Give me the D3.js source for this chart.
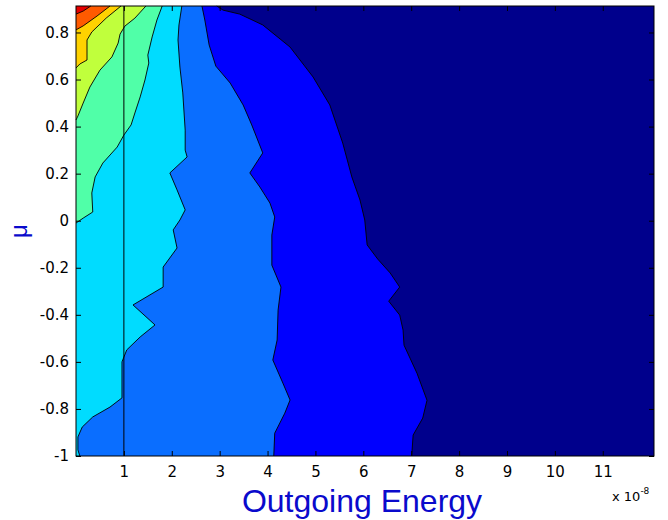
<!DOCTYPE html>
<html>
<head>
<meta charset="utf-8">
<script src="https://cdn.jsdelivr.net/npm/d3@7"></script>
<style>
body { margin: 0; background: #fff; }
</style>
</head>
<body>
<script>
// contour edges: [mu, energy (x 1e-8)] pairs, top to bottom.
// each level fills everything left of its edge.
var edgeBlue = [[0.9125,2.94],[0.895,3.07],[0.878,3.42],[0.832,3.90],[0.738,4.47],[0.611,4.95],[0.492,5.30],
    [0.330,5.57],[0.186,5.76],[0.088,5.93],[0.003,6.03],[-0.103,6.08],[-0.163,6.30],[-0.222,6.56],[-0.282,6.76],
    [-0.342,6.53],[-0.401,6.76],[-0.465,6.83],[-0.529,6.85],[-0.648,7.12],[-0.763,7.33],[-0.839,7.24],[-0.911,7.04],[-1,7.01]];
var edgeSky = [[0.9125,2.63],[0.853,2.69],[0.747,2.78],[0.657,2.92],[0.585,3.22],[0.492,3.49],[0.407,3.67],
    [0.288,3.90],[0.203,3.63],[0.143,3.84],[0.075,4.05],[0.016,4.15],[-0.061,4.09],[-0.189,4.09],[-0.282,4.28],
    [-0.380,4.22],[-0.507,4.20],[-0.592,4.11],[-0.690,4.32],[-0.762,4.47],[-0.818,4.36],[-0.903,4.15],[-1,4.13]];
var edgeCyan = [[0.9125,2.21],[0.832,2.15],[0.768,2.13],[0.653,2.17],[0.543,2.23],[0.385,2.28],[0.300,2.28],
    [0.271,2.32],[0.203,1.96],[0.131,2.11],[0.046,2.28],[0.003,2.17],[-0.039,2.03],[-0.116,2.11],[-0.197,1.82],
    [-0.282,1.82],[-0.358,1.19],[-0.443,1.65],[-0.494,1.34],[-0.549,1.06],[-0.600,0.96],[-0.753,0.96],
    [-0.792,0.71],[-0.834,0.35],[-0.877,0.13],[-0.919,0.04],[-0.974,0.04],[-1,0.08]];
var edgeAqua = [[0.9125,1.80],[0.853,1.69],[0.781,1.59],[0.704,1.50],[0.670,1.52],[0.598,1.44],[0.526,1.34],
    [0.458,1.23],[0.407,1.15],[0.364,1.00],[0.313,0.86],[0.245,0.56],[0.186,0.40],[0.118,0.33],[0.037,0.35],
    [0.011,0.15],[-0.010,0]];
var edgeLime = [[0.9125,1.46],[0.861,1.23],[0.827,1.02],[0.793,0.92],[0.755,0.88],[0.696,0.75],[0.640,0.50],
    [0.568,0.29],[0.500,0.15],[0.445,0.04],[0.428,0]];
var edgeYellow = [[0.9125,0.94],[0.861,0.63],[0.802,0.33],[0.768,0.23],[0.683,0.23],[0.666,0.08],[0.649,0]];
var edgeOrange = [[0.9125,0.71],[0.870,0.44],[0.828,0.15],[0.811,0]];
var edgeRed = [[0.9125,0.31],[0.891,0.15],[0.878,0]];

var edges = [edgeBlue, edgeSky, edgeCyan, edgeAqua, edgeLime, edgeYellow, edgeOrange, edgeRed];
var markerEnergy = 1;

var xTicks = [1, 2, 3, 4, 5, 6, 7, 8, 9, 10, 11];
var yTicks = [-1, -0.8, -0.6, -0.4, -0.2, 0, 0.2, 0.4, 0.6, 0.8];
var xDomain = [0, 12.07];
var yDomain = [-1, 0.9125];

// jet-like fill colours, lowest level first
var fills = ["#00008c", "#0000ff", "#0a6eff", "#00dcff", "#50ffa8", "#c0ff3c", "#ffd200", "#ff5a00", "#e60000"];

var w = 668, h = 520;
var svg = d3.select("body").append("svg")
    .attr("width", w)
    .attr("height", h)
    .style("background", "#fff");

var x = d3.scaleLinear().domain(xDomain).range([76, 654]);
var y = d3.scaleLinear().domain(yDomain).range([456, 6]);

// lowest level covers the whole plot
svg.append("rect")
    .attr("x", x(xDomain[0]))
    .attr("y", y(yDomain[1]))
    .attr("width", x(xDomain[1]) - x(xDomain[0]))
    .attr("height", y(yDomain[0]) - y(yDomain[1]))
    .attr("fill", fills[0]);

var area = d3.area()
    .y(function(d){ return y(d[0]); })
    .x0(x(0))
    .x1(function(d){ return x(d[1]); });

var line = d3.line()
    .x(function(d){ return x(d[1]); })
    .y(function(d){ return y(d[0]); });

edges.forEach(function(edge, i){
    svg.append("path")
        .attr("d", area(edge))
        .attr("fill", fills[i + 1]);
    svg.append("path")
        .attr("d", line(edge))
        .attr("fill", "none")
        .attr("stroke", "#000")
        .attr("stroke-width", 0.9);
});

// vertical marker line
svg.append("line")
    .attr("x1", x(markerEnergy)).attr("x2", x(markerEnergy))
    .attr("y1", y(yDomain[1])).attr("y2", y(yDomain[0]))
    .attr("stroke", "#000")
    .attr("stroke-width", 1);

// axes, ticks pointing inward
var tickFont = "'DejaVu Sans', sans-serif";

var xAxis = svg.append("g")
    .attr("transform", "translate(0," + y(yDomain[0]) + ")")
    .call(d3.axisBottom(x).tickValues(xTicks).tickSize(-5).tickSizeOuter(0).tickPadding(10)
        .tickFormat(d3.format("d")));
var yAxis = svg.append("g")
    .attr("transform", "translate(" + x(xDomain[0]) + ",0)")
    .call(d3.axisLeft(y).tickValues(yTicks).tickSize(-5).tickSizeOuter(0).tickPadding(7)
        .tickFormat(function(d){ return d3.format("")(+d.toFixed(1)); }));
svg.append("g")
    .attr("transform", "translate(0," + y(yDomain[1]) + ")")
    .call(d3.axisTop(x).tickValues(xTicks).tickSize(-5).tickSizeOuter(0).tickFormat(""));
svg.append("g")
    .attr("transform", "translate(" + x(xDomain[1]) + ",0)")
    .call(d3.axisRight(y).tickValues(yTicks).tickSize(-5).tickSizeOuter(0).tickFormat(""));

svg.selectAll(".domain").remove();
svg.selectAll(".tick line").attr("stroke", "#000");
svg.selectAll(".tick text")
    .attr("fill", "#000")
    .style("font-family", tickFont)
    .style("font-size", "15px");
yAxis.selectAll(".tick text").text(function(d){ return d3.format("")(+d.toFixed(1)).replace("\u2212", "-"); });

// box
svg.append("rect")
    .attr("x", x(xDomain[0]))
    .attr("y", y(yDomain[1]))
    .attr("width", x(xDomain[1]) - x(xDomain[0]))
    .attr("height", y(yDomain[0]) - y(yDomain[1]))
    .attr("fill", "none")
    .attr("stroke", "#000")
    .attr("stroke-width", 1);

// labels
svg.append("text")
    .attr("x", 362)
    .attr("y", 512)
    .attr("text-anchor", "middle")
    .style("font-family", "'Liberation Sans', Arial, sans-serif")
    .style("font-size", "32px")
    .attr("fill", "#0a0acc")
    .text("Outgoing Energy");

svg.append("text")
    .attr("transform", "translate(27,231) rotate(-90)")
    .attr("text-anchor", "middle")
    .style("font-family", "'Liberation Sans', Arial, sans-serif")
    .style("font-size", "24px")
    .attr("fill", "#0a0acc")
    .text("\u03bc");

var expo = svg.append("text")
    .attr("x", 612)
    .attr("y", 501)
    .style("font-family", tickFont)
    .style("font-size", "13px")
    .attr("fill", "#000");
expo.append("tspan").text("x 10");
expo.append("tspan").attr("dy", -7).style("font-size", "9px").text("-8");
</script>
</body>
</html>
